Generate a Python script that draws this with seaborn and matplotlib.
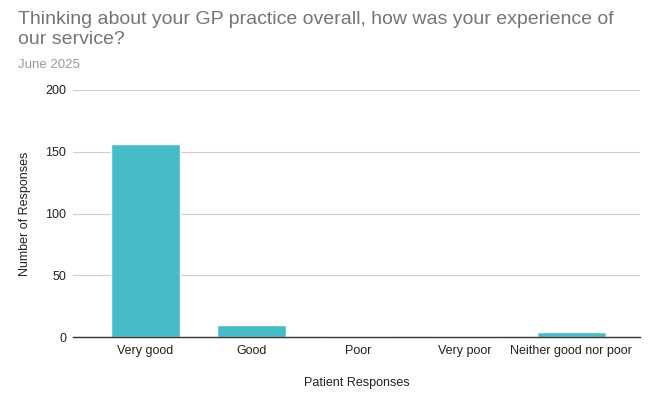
import matplotlib
matplotlib.use('Agg')
import matplotlib.pyplot as plt
import seaborn as sns
import pandas as pd

# data
categories = ['Very good', 'Good', 'Poor', 'Very poor', 'Neither good nor poor']
responses = [156, 10, 1, 1, 4]
y_ticks = [0, 50, 100, 150, 200]

df = pd.DataFrame({'category': categories, 'responses': responses})

sns.set_style('white')
plt.rcParams['font.family'] = ['Liberation Sans', 'DejaVu Sans']

fig = plt.figure(figsize=(6.52, 3.98), dpi=100)
ax = fig.add_axes([0.112, 0.153, 0.870, 0.621])

sns.barplot(data=df, x='category', y='responses', color='#46bdc6',
            width=0.65, saturation=1, ax=ax, zorder=3)

ax.set_ylim(0, 200)
ax.set_yticks(y_ticks)
ax.yaxis.grid(True, color='#cccccc', linewidth=0.8)
ax.set_axisbelow(True)
for s in ['top', 'right', 'left']:
    ax.spines[s].set_visible(False)
ax.spines['bottom'].set_color('#333333')
ax.spines['bottom'].set_linewidth(1)
ax.spines['bottom'].set_zorder(4)
ax.tick_params(axis='both', length=0, labelsize=9, colors='#222222', pad=6)
ax.tick_params(axis='y', pad=5)
ax.set_xlim(-0.68, len(categories) - 0.35)

ax.set_xlabel('Patient Responses', fontsize=9, color='#222222', labelpad=14)
ax.set_ylabel('Number of Responses', fontsize=9, color='#222222', labelpad=10)

fig.text(0.028, 0.972, 'Thinking about your GP practice overall, how was your experience of\nour service?',
         fontsize=14, color='#757575', va='top', ha='left', linespacing=1.2)
fig.text(0.028, 0.852, 'June 2025', fontsize=9.5, color='#999999', va='top', ha='left')

fig.savefig('out.png', dpi=100)
